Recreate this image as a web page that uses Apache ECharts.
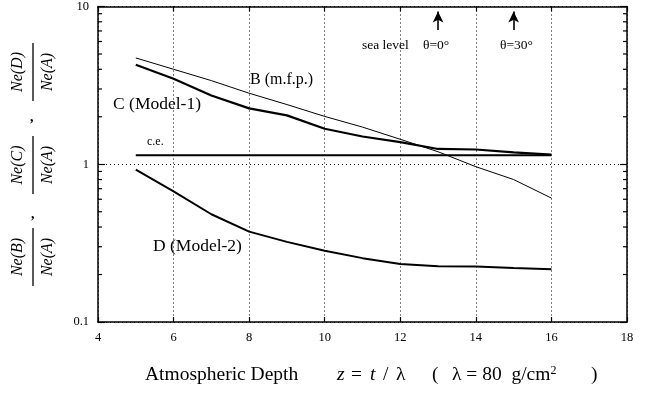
<!DOCTYPE html>
<html>
<head>
<meta charset="utf-8">
<script src="https://cdn.jsdelivr.net/npm/echarts@6/dist/echarts.min.js"></script>
<style>html,body{margin:0;padding:0;background:#fff}#c{width:653px;height:396px}</style>
</head>
<body>
<div id="c"></div>
<script>
// ---- data ----
var depthX = [5, 6, 7, 8, 9, 10, 11, 12, 13, 14, 15, 16];
var ratioB = [4.72, 4.0, 3.39, 2.82, 2.39, 2.01, 1.72, 1.44, 1.2, 0.965, 0.80, 0.61];
var ratioC = [4.27, 3.48, 2.73, 2.26, 2.04, 1.68, 1.50, 1.38, 1.25, 1.24, 1.19, 1.15];
var ratioCE = [1.14, 1.14, 1.14, 1.14, 1.14, 1.14, 1.14, 1.14, 1.14, 1.14, 1.14, 1.14];
var ratioD = [0.924, 0.673, 0.482, 0.374, 0.322, 0.283, 0.254, 0.233, 0.226, 0.225, 0.22, 0.216];
var arrowDepths = [13, 15];
var minorTickVals = [0.2, 0.3, 0.4, 0.5, 0.6, 0.7, 0.8, 0.9, 2, 3, 4, 5, 6, 7, 8, 9];
var xTicks = {min: 4, max: 18, interval: 2};
var yTickLabels = {0.1: '0.1', 1: '1', 10: '10'};

function pairs(xs, ys) { return xs.map(function (x, i) { return [x, ys[i]]; }); }

var FONT = 'Liberation Serif';
var chart = echarts.init(document.getElementById('c'), null, {renderer: 'canvas'});

function lineSeries(name, ys, w) {
  return {
    name: name, type: 'line', data: pairs(depthX, ys), showSymbol: false, symbol: 'none',
    lineStyle: {color: '#000', width: w}, silent: true, animation: false, z: 5
  };
}

var seriesB = lineSeries('B', ratioB, 1);
seriesB.markLine = {
  silent: true, animation: false,
  symbol: ['none', 'arrow'], symbolSize: [8, 11],
  lineStyle: {color: '#000', width: 1.6, type: 'solid'},
  label: {show: false},
  data: arrowDepths.map(function (d) { return [{coord: [d, 7.1]}, {coord: [d, 9.3]}]; })
};

function fraction(cx, cy, num) {
  return {
    type: 'group', x: cx, y: cy, rotation: Math.PI / 2,
    children: [
      {type: 'text', x: 0, y: -15, style: {text: num, font: 'italic 16px "' + FONT + '"', fill: '#000', align: 'center', verticalAlign: 'middle'}},
      {type: 'line', shape: {x1: -29, y1: 0, x2: 29, y2: 0}, style: {stroke: '#000', lineWidth: 1.3}},
      {type: 'text', x: 0, y: 14.5, style: {text: 'Ne(A)', font: 'italic 16px "' + FONT + '"', fill: '#000', align: 'center', verticalAlign: 'middle'}}
    ]
  };
}
function txt(x, y, s, size, extra) {
  var o = {type: 'text', x: x, y: y, style: {text: s, font: size + 'px "' + FONT + '"', fill: '#000', align: 'left', verticalAlign: 'middle'}};
  if (extra) { for (var k in extra) o.style[k] = extra[k]; }
  return o;
}
var TY = 375;

var option = {
  animation: false,
  backgroundColor: '#fff',
  grid: {left: 98, right: 26, top: 3, bottom: 74, containLabel: false},
  xAxis: [{
    type: 'value', min: xTicks.min, max: xTicks.max, interval: xTicks.interval, position: 'bottom',
    axisLine: {show: true, lineStyle: {color: '#000', width: 1.5}},
    axisTick: {show: true, inside: true, length: 5, lineStyle: {color: '#000', width: 1.2}},
    axisLabel: {color: '#000', fontFamily: FONT, fontSize: 12.5, margin: 9},
    splitLine: {show: true, lineStyle: {color: '#000', width: 1, type: [1, 3]}}
  }, {
    type: 'value', min: xTicks.min, max: xTicks.max, interval: xTicks.interval, position: 'top',
    axisLine: {show: true, lineStyle: {color: '#000', width: 1.5}},
    axisTick: {show: true, inside: true, length: 5, lineStyle: {color: '#000', width: 1.2}},
    axisLabel: {show: false}, splitLine: {show: false}
  }],
  yAxis: [{
    type: 'log', logBase: 10, min: 0.1, max: 10, position: 'left',
    axisLine: {show: true, lineStyle: {color: '#000', width: 1.5}},
    axisTick: {show: true, inside: true, length: 7, lineStyle: {color: '#000', width: 1.2}},
    axisLabel: {color: '#000', fontFamily: FONT, fontSize: 12.5, margin: 9,
      formatter: function (v) { var k = Math.round(Math.log10(v)); return yTickLabels[Math.pow(10, k)] || String(v); }},
    splitLine: {show: true, lineStyle: {color: '#000', width: 1, type: [1, 3]}}
  }, {
    type: 'log', logBase: 10, min: 0.1, max: 10, position: 'right',
    axisLine: {show: true, lineStyle: {color: '#000', width: 1.5}},
    axisTick: {show: true, inside: true, length: 7, lineStyle: {color: '#000', width: 1.2}},
    axisLabel: {show: false}, splitLine: {show: false}
  }],
  series: [
    seriesB,
    lineSeries('C', ratioC, 2.2),
    lineSeries('c.e.', ratioCE, 2),
    lineSeries('D', ratioD, 2),
    {
      type: 'custom', silent: true, animation: false, clip: false,
      data: minorTickVals.map(function (v) { return [v]; }),
      encode: {y: 0},
      renderItem: function (params, api) {
        var v = api.value(0);
        var l = api.coord([xTicks.min, v]);
        var r = api.coord([xTicks.max, v]);
        return {type: 'group', children: [
          {type: 'line', shape: {x1: l[0], y1: l[1], x2: l[0] + 4, y2: l[1]}, style: {stroke: '#000', lineWidth: 1.2}},
          {type: 'line', shape: {x1: r[0], y1: r[1], x2: r[0] - 4, y2: r[1]}, style: {stroke: '#000', lineWidth: 1.2}}
        ]};
      }
    }
  ],
  graphic: [
    fraction(33, 72, 'Ne(D)'),
    txt(30, 117, ',', 14, {font: 'bold 14px "' + FONT + '"'}),
    fraction(33, 165, 'Ne(C)'),
    txt(31, 214, ',', 14, {font: 'bold 14px "' + FONT + '"'}),
    fraction(33, 257, 'Ne(B)'),
    txt(250, 80, 'B (m.f.p.)', 16),
    txt(113, 104, 'C (Model-1)', 17.5),
    txt(147, 142, 'c.e.', 12),
    txt(153, 246, 'D (Model-2)', 17.5),
    txt(362, 45, 'sea level', 13.5),
    txt(423, 45, 'θ=0°', 13.5),
    txt(500, 45, 'θ=30°', 13.5),
    txt(145, TY, 'Atmospheric Depth', 19.5),
    txt(337, TY, 'z', 19.5, {font: 'italic 19.5px "' + FONT + '"'}),
    txt(351, TY, '=', 19.5),
    txt(370, TY, 't', 19.5, {font: 'italic 19.5px "' + FONT + '"'}),
    txt(383, TY, '/', 19.5),
    txt(396, TY, 'λ', 19.5),
    txt(432, TY, '(', 19.5),
    {type: 'text', x: 452, y: TY, style: {
      text: 'λ = 80  g/cm{s|2}', font: '19.5px "' + FONT + '"', fill: '#000', align: 'left', verticalAlign: 'middle',
      rich: {s: {fontFamily: FONT, fontSize: 12, fill: '#000', verticalAlign: 'top', padding: [0, 0, 8, 0]}}
    }},
    txt(591, TY, ')', 19.5)
  ]
};
chart.setOption(option);
</script>
</body>
</html>
